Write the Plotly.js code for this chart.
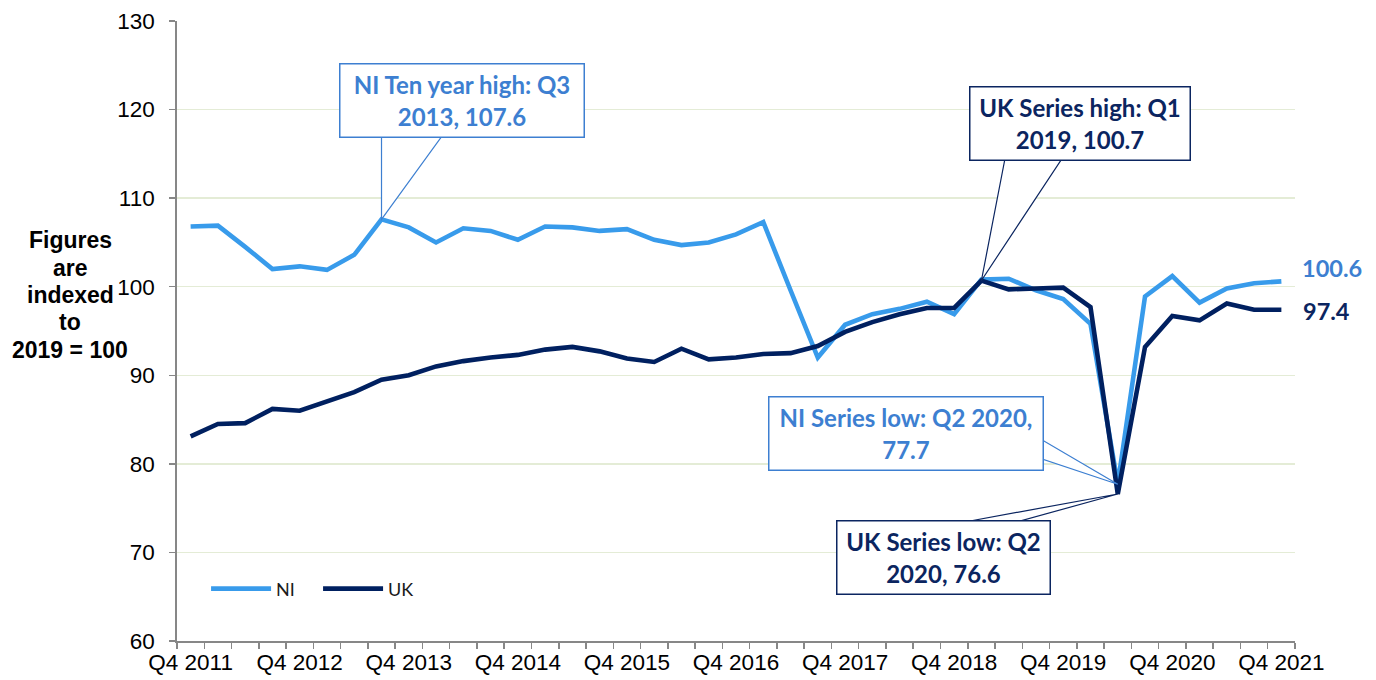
<!DOCTYPE html>
<html>
<head>
<meta charset="utf-8">
<script src="https://cdn.plot.ly/plotly-3.0.1.min.js"></script>
<style>
  html, body { margin: 0; padding: 0; background: #ffffff; }
  #chart { width: 1376px; height: 680px; }
</style>
</head>
<body>
<div id="chart"></div>
<script>
// ---- data ----
const quarters = [
  'Q4 2011',
  'Q1 2012', 'Q2 2012', 'Q3 2012', 'Q4 2012',
  'Q1 2013', 'Q2 2013', 'Q3 2013', 'Q4 2013',
  'Q1 2014', 'Q2 2014', 'Q3 2014', 'Q4 2014',
  'Q1 2015', 'Q2 2015', 'Q3 2015', 'Q4 2015',
  'Q1 2016', 'Q2 2016', 'Q3 2016', 'Q4 2016',
  'Q1 2017', 'Q2 2017', 'Q3 2017', 'Q4 2017',
  'Q1 2018', 'Q2 2018', 'Q3 2018', 'Q4 2018',
  'Q1 2019', 'Q2 2019', 'Q3 2019', 'Q4 2019',
  'Q1 2020', 'Q2 2020', 'Q3 2020', 'Q4 2020',
  'Q1 2021', 'Q2 2021', 'Q3 2021', 'Q4 2021'
];

const niValues = [
  106.8,
  106.9, 104.5, 102.0, 102.3,
  101.9, 103.6, 107.6, 106.7,
  105.0, 106.6, 106.3, 105.3,
  106.8, 106.7, 106.3, 106.5,
  105.3, 104.7, 105.0, 105.9,
  107.3, 99.6, 92.0, 95.7,
  96.9, 97.5, 98.3, 96.9,
  100.8, 100.9, 99.6, 98.6,
  95.8, 77.7, 98.9, 101.2,
  98.2, 99.8, 100.4, 100.6
];

const ukValues = [
  83.1,
  84.5, 84.6, 86.2, 86.0,
  87.0, 88.1, 89.5, 90.0,
  91.0, 91.6, 92.0, 92.3,
  92.9, 93.2, 92.7, 91.9,
  91.5, 93.0, 91.8, 92.0,
  92.4, 92.5, 93.3, 94.9,
  96.0, 96.9, 97.6, 97.6,
  100.7, 99.7, 99.8, 99.9,
  97.7, 76.6, 93.2, 96.7,
  96.2, 98.1, 97.4, 97.4
];

const tickLabels = ['Q4 2011', 'Q4 2012', 'Q4 2013', 'Q4 2014', 'Q4 2015', 'Q4 2016',
                    'Q4 2017', 'Q4 2018', 'Q4 2019', 'Q4 2020', 'Q4 2021'];

const seriesNames = ['NI', 'UK'];
const yTitleLines = ['Figures', 'are', 'indexed', 'to', '2019 = 100'];

// callout texts and the quarter they point at
const niHighQuarter = 'Q3 2013';
const ukHighQuarter = 'Q1 2019';
const lowQuarter = 'Q2 2020';
const niHighText = ['NI Ten year high: Q3', '2013, 107.6'];
const ukHighText = ['UK Series high: Q1', '2019, 100.7'];
const niLowText = ['NI Series low: Q2 2020,', '77.7'];
const ukLowText = ['UK Series low: Q2', '2020, 76.6'];

// ---- styles ----
const NI_COLOR = '#389BEB';
const UK_COLOR = '#002060';
const NI_NOTE = '#3D7FD1';
const UK_NOTE = '#0B2560';
const AXIS_GREY = '#878787';
const GRID = '#E4ECD6';
const TICK_FONT = { family: 'Liberation Sans, Arial, sans-serif', size: 22.5, color: '#000000' };
const NOTE_FAMILY = 'Lato, Carlito, Calibri, sans-serif';

const valueAt = (arr, q) => arr[quarters.indexOf(q)];
const lastIdx = quarters.length - 1;

const traces = [
  { x: quarters, y: niValues, name: seriesNames[0], type: 'scatter', mode: 'lines',
    line: { color: NI_COLOR, width: 4.6 } },
  { x: quarters, y: ukValues, name: seriesNames[1], type: 'scatter', mode: 'lines',
    line: { color: UK_COLOR, width: 4.6 } }
];

function callout(q, v, lines, color, dx, dy, w, h) {
  return {
    x: q, y: v, xref: 'x', yref: 'y',
    text: '<b>' + lines.join('<br>') + '</b>',
    showarrow: false,
    xshift: dx, yshift: dy,
    width: w, height: h,
    align: 'center', valign: 'middle',
    bgcolor: '#ffffff', bordercolor: color, borderwidth: 1.5, borderpad: 0,
    font: { family: NOTE_FAMILY, size: 24, color: color }
  };
}

function wedge(q, v, path, color) {
  return {
    type: 'path', layer: 'above',
    xref: 'x', yref: 'y',
    xsizemode: 'pixel', ysizemode: 'pixel',
    xanchor: q, yanchor: v,
    path: path,
    line: { color: color, width: 1.2 },
    fillcolor: '#ffffff'
  };
}

const niHigh = valueAt(niValues, niHighQuarter);
const ukHigh = valueAt(ukValues, ukHighQuarter);
const niLow = valueAt(niValues, lowQuarter);
const ukLow = valueAt(ukValues, lowQuarter);

const annotations = [
  callout(niHighQuarter, niHigh, niHighText, NI_NOTE, 80.5, 119.4, 243, 72),
  callout(ukHighQuarter, ukHigh, ukHighText, UK_NOTE, 98.6, 157.5, 219, 72),
  callout(lowQuarter, niLow, niLowText, NI_NOTE, -211.8, 51.2, 273, 72),
  callout(lowQuarter, ukLow, ukLowText, UK_NOTE, -174.5, -64, 212, 72),
  { x: quarters[lastIdx], y: niValues[lastIdx], xref: 'x', yref: 'y',
    text: '<b>' + niValues[lastIdx].toFixed(1) + '</b>', showarrow: false,
    xanchor: 'left', xshift: 19, yshift: 13,
    font: { family: NOTE_FAMILY, size: 23.5, color: NI_NOTE } },
  { x: quarters[lastIdx], y: ukValues[lastIdx], xref: 'x', yref: 'y',
    text: '<b>' + ukValues[lastIdx].toFixed(1) + '</b>', showarrow: false,
    xanchor: 'left', xshift: 20, yshift: -1,
    font: { family: NOTE_FAMILY, size: 23.5, color: UK_NOTE } }
];

// y-axis title written as separate centred lines, Excel style
yTitleLines.forEach((line, i) => {
  annotations.push({
    xref: 'paper', yref: 'paper', x: -0.0957, y: 0.558,
    xanchor: 'center', yanchor: 'middle',
    yshift: (2 - i) * 27.3,
    text: '<b>' + line + '</b>', showarrow: false,
    font: { family: 'Liberation Sans, Arial, sans-serif', size: 23, color: '#000000' }
  });
});

const shapes = [
  wedge(niHighQuarter, niHigh, 'M0,0 L0,84 L61,84 Z', NI_NOTE),
  wedge(ukHighQuarter, ukHigh, 'M0,0 L23.6,122 L80.6,122 Z', UK_NOTE),
  wedge(lowQuarter, niLow, 'M0,0 L-75.5,44.2 L-75.5,25.2 Z', NI_NOTE),
  wedge(lowQuarter, ukLow, 'M0,0 L-155.8,-28.5 L-102.8,-28.5 Z', UK_NOTE)
];

const layout = {
  width: 1376, height: 680,
  margin: { l: 177, r: 81, t: 21, b: 39, pad: 0 },
  paper_bgcolor: '#ffffff', plot_bgcolor: '#ffffff',
  showlegend: true,
  legend: {
    orientation: 'h', x: 0.026, y: 0.084, xanchor: 'left', yanchor: 'middle',
    itemwidth: 60,
    entrywidth: 37, entrywidthmode: 'pixels',
    bgcolor: 'rgba(0,0,0,0)',
    font: { family: NOTE_FAMILY, size: 18, color: '#1a1a1a' },
    traceorder: 'normal'
  },
  xaxis: {
    type: 'category',
    range: [-0.5, lastIdx + 0.5],
    tickmode: 'array',
    tickvals: quarters,
    ticktext: quarters.map(q => tickLabels.includes(q) ? q : ''),
    tickson: 'boundaries',
    ticks: 'outside', ticklen: 6, tickwidth: 1.5, tickcolor: AXIS_GREY,
    tickangle: 0,
    showline: true, linecolor: AXIS_GREY, linewidth: 1.8,
    showgrid: false, zeroline: false,
    tickfont: TICK_FONT,
    fixedrange: true
  },
  yaxis: {
    range: [60, 130],
    tick0: 60, dtick: 10,
    ticks: 'outside', ticklen: 6, tickwidth: 1.5, tickcolor: AXIS_GREY,
    ticklabelstandoff: 10,
    showline: true, linecolor: AXIS_GREY, linewidth: 1.8,
    showgrid: true, gridcolor: GRID, gridwidth: 1.5,
    zeroline: false,
    tickfont: TICK_FONT,
    fixedrange: true
  },
  annotations: annotations,
  shapes: shapes
};

Plotly.newPlot('chart', traces, layout, { displayModeBar: false, staticPlot: true });
</script>
</body>
</html>
